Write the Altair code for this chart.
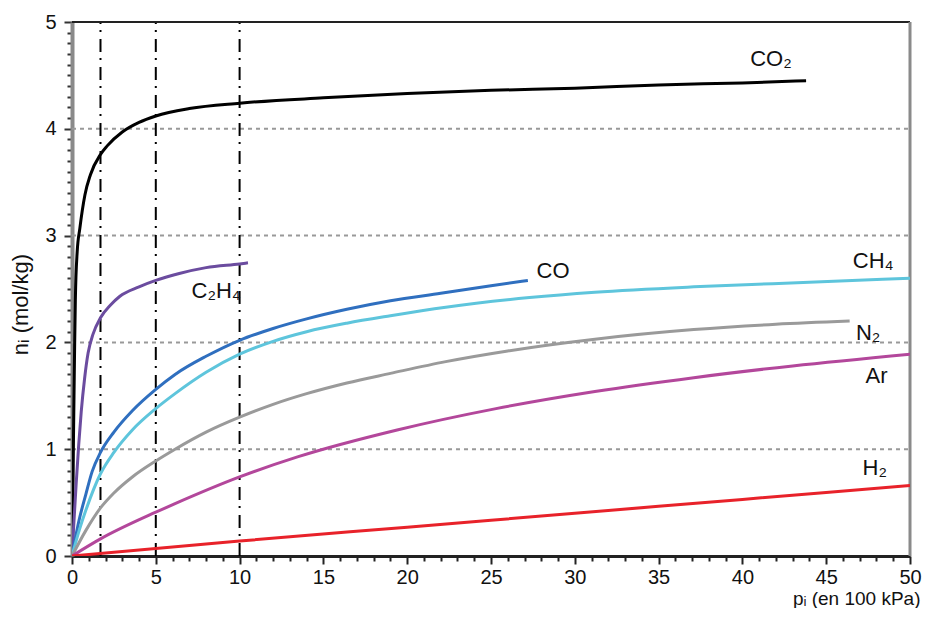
import altair as alt
import pandas as pd

# ---- data ----
co2_x = [0, 0.06, 0.12, 0.16, 0.2, 0.31, 0.47, 0.77, 1.1, 1.7, 2.1, 3, 4, 5, 7, 10, 15, 20, 25, 30, 35, 40, 43.8]
co2_y = [0, 0.75, 1.5, 2.0, 2.4, 2.85, 3.07, 3.38, 3.57, 3.76, 3.84, 3.97, 4.06, 4.12, 4.19, 4.24, 4.29, 4.33, 4.36, 4.38, 4.41, 4.43, 4.45]

c2h4_x = [0, 0.1, 0.25, 0.4, 0.55, 0.75, 0.96, 1.26, 1.7, 2.3, 2.84, 4, 5, 6.4, 8, 10, 10.5]
c2h4_y = [0, 0.28, 0.68, 1.04, 1.35, 1.66, 1.9, 2.08, 2.23, 2.35, 2.43, 2.52, 2.58, 2.645, 2.7, 2.735, 2.745]

co_x = [0, 0.43, 0.83, 1.2, 1.7, 2.5, 3.6, 5, 6.15, 8, 10, 12, 14, 16.4, 19, 22, 25, 27.2]
co_y = [0, 0.34, 0.58, 0.79, 0.97, 1.16, 1.36, 1.56, 1.70, 1.87, 2.02, 2.13, 2.22, 2.31, 2.39, 2.46, 2.53, 2.58]

ch4_x = [0, 0.43, 0.83, 1.7, 2.5, 3.6, 5, 6.15, 8, 10, 12, 14, 16.4, 19, 22.3, 27.3, 31.2, 37.1, 41.8, 50]
ch4_y = [0, 0.24, 0.43, 0.77, 0.97, 1.18, 1.38, 1.52, 1.72, 1.89, 2.01, 2.10, 2.18, 2.25, 2.33, 2.42, 2.47, 2.52, 2.55, 2.60]

n2_x = [0, 0.83, 1.7, 2.5, 3.6, 5, 6.15, 8, 10, 12, 14, 16.4, 19, 22.3, 26, 31.2, 37.1, 42, 46.4]
n2_y = [0, 0.24, 0.45, 0.59, 0.74, 0.89, 1.0, 1.16, 1.30, 1.42, 1.52, 1.62, 1.71, 1.82, 1.92, 2.03, 2.12, 2.17, 2.20]

ar_x = [0, 1.7, 5, 6.15, 10, 13.5, 19.4, 25.3, 31.2, 37.1, 43, 50]
ar_y = [0, 0.16, 0.41, 0.49, 0.74, 0.93, 1.18, 1.38, 1.54, 1.67, 1.78, 1.89]

h2_x = [0, 10, 20, 30, 40, 50]
h2_y = [0, 0.14, 0.27, 0.40, 0.53, 0.66]

series_names = ["CO2", "C2H4", "CO", "CH4", "N2", "Ar", "H2"]
series_colors = ["#000000", "#6b4c9f", "#2f6fbf", "#5ec5dc", "#9a9a9a", "#b3479b", "#e8222a"]

label_text = ["CO₂", "C₂H₄", "CO", "CH₄", "N₂", "Ar", "H₂"]
label_x = [41.7, 8.6, 28.7, 47.8, 47.5, 48.0, 47.9]
label_y = [4.65, 2.48, 2.67, 2.76, 2.09, 1.69, 0.82]

grid_y = [1, 2, 3, 4]
ref_x = [1.7, 5, 10]
x_ticks = list(range(0, 51))
y_ticks = [round(i * 0.1, 1) for i in range(51)]

# ---- tables ----
rows = []
for name, xs, ys in zip(series_names,
                        [co2_x, c2h4_x, co_x, ch4_x, n2_x, ar_x, h2_x],
                        [co2_y, c2h4_y, co_y, ch4_y, n2_y, ar_y, h2_y]):
    for i, (a, b) in enumerate(zip(xs, ys)):
        rows.append({"series": name, "x": a, "y": b, "order": i})
lines_df = pd.DataFrame(rows)
labels_df = pd.DataFrame({"label": label_text, "x": label_x, "y": label_y})
grid_df = pd.DataFrame({"y": grid_y})
ref_df = pd.DataFrame({"x": ref_x, "y": [0] * len(ref_x), "y2": [5] * len(ref_x)})
top_df = pd.DataFrame({"x": [0], "x2": [50], "y": [5]})
right_df = pd.DataFrame({"x": [50], "y": [0], "y2": [5]})

FONT = "Liberation Sans, DejaVu Sans, Arial, sans-serif"
is_int = "abs(datum.value - round(datum.value)) < 0.001"

W, H = 838, 534

xscale = alt.Scale(domain=[0, 50], nice=False, zero=False)
yscale = alt.Scale(domain=[0, 5], nice=False, zero=False)

xaxis = alt.Axis(
    values=x_ticks,
    labelExpr="datum.value % 5 === 0 ? format(datum.value, 'd') : ''",
    tickSize={"condition": {"test": "datum.value % 5 === 0", "value": 8}, "value": 5},
    tickColor="#222", tickWidth=2, domainColor="#222", domainWidth=3,
    labelFont=FONT, labelFontSize=20, labelColor="#111", labelPadding=3,
    labelFlush=False, labelOverlap=False, grid=False,
    title="pᵢ (en 100 kPa)", titleFont=FONT, titleFontSize=19, titleFontWeight="normal",
    titleColor="#111", titleAnchor="end", titleAlign="right", titleBaseline="alphabetic",
    titleX=W + 10, titleY=48,
)
yaxis = alt.Axis(
    values=y_ticks,
    labelExpr=is_int + " ? format(datum.value, 'd') : ''",
    tickSize={"condition": {"test": is_int, "value": 8}, "value": 5},
    tickColor="#333", tickWidth=2, domainColor="#8a8a8a", domainWidth=4,
    labelFont=FONT, labelFontSize=20, labelColor="#111", labelPadding=8,
    labelFlush=False, labelOverlap=False, grid=False,
    title="nᵢ (mol/kg)", titleFont=FONT, titleFontSize=22, titleFontWeight="normal",
    titleColor="#111", titleAngle=270, titleAlign="center", titleBaseline="alphabetic",
    titleX=-45, titleY=282,
)


def X(field="x"):
    return alt.X(f"{field}:Q", scale=xscale, axis=xaxis)


def Y(field="y"):
    return alt.Y(f"{field}:Q", scale=yscale, axis=yaxis)


grid = alt.Chart(grid_df).mark_rule(color="#999999", strokeWidth=2, strokeDash=[4, 4]).encode(
    y=Y(), x=alt.value(0), x2=alt.value(W)
)
refs = alt.Chart(ref_df).mark_rule(color="#000000", strokeWidth=2, strokeDash=[13, 7, 2, 6]).encode(
    x=X(), y=Y(), y2="y2:Q"
)
top = alt.Chart(top_df).mark_rule(color="#222222", strokeWidth=2).encode(
    x=X(), x2="x2:Q", y=Y()
)
right = alt.Chart(right_df).mark_rule(color="#8a8a8a", strokeWidth=3).encode(
    x=X(), y=Y(), y2="y2:Q"
)
lines = alt.Chart(lines_df).mark_line(strokeWidth=3, interpolate="monotone", clip=True).encode(
    x=X(), y=Y(),
    color=alt.Color("series:N", scale=alt.Scale(domain=series_names, range=series_colors), legend=None),
    order="order:Q",
)
labels = alt.Chart(labels_df).mark_text(font=FONT, fontSize=22, color="#111", align="center", baseline="middle").encode(
    x=X(), y=Y(), text="label:N"
)

chart = alt.layer(grid, refs, top, right, lines, labels).properties(
    width=W, height=H,
    autosize=alt.AutoSizeParams(type="none"),
    padding={"left": 64, "top": 14, "right": 12, "bottom": 52},
).configure_view(stroke=None)

chart.save("out.html", embed_options={"renderer": "svg", "actions": False})
